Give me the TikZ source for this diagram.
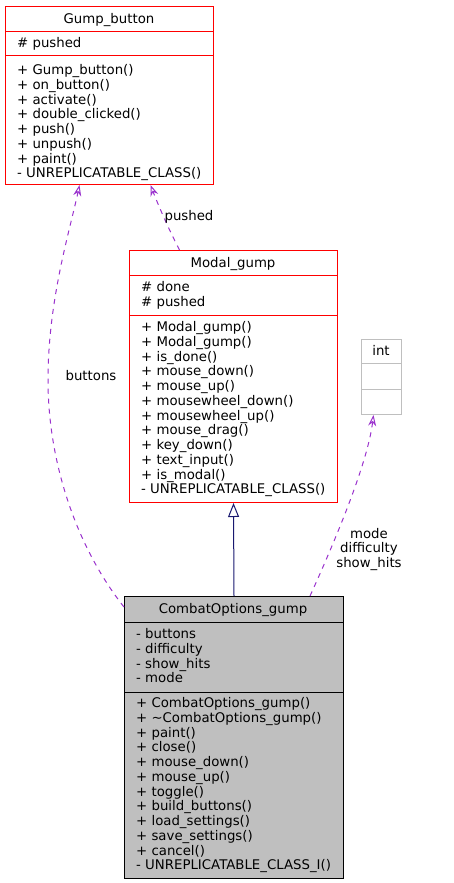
\documentclass[tikz,border=0pt]{standalone}
\usepackage{fontspec}
\setmainfont{DejaVu Sans}
\usetikzlibrary{arrows.meta}

\definecolor{umlred}{HTML}{FF0000}
\definecolor{umlgray}{HTML}{BFBFBF}
\definecolor{umlnavy}{HTML}{191970}
\definecolor{umlpurple}{HTML}{9A32CD}
\newcommand{\umlfont}{\fontsize{13.3}{14.75}\selectfont}

\begin{document}
\begin{tikzpicture}[x=1pt, y=-1pt,
    classbox/.style={draw=umlred, line width=1pt, anchor=north west, inner sep=0pt},
    classname/.style={font=\umlfont, inner sep=0pt, anchor=mid, yshift=-2pt},
    member/.style={font=\umlfont, inner sep=0pt, anchor=mid west, yshift=-2pt},
    edgelabel/.style={font=\umlfont, inner sep=0pt, align=center, yshift=-1.5pt},
    collab/.style={umlpurple, line width=1pt, dash pattern=on 5pt off 5pt,
        -{Stealth[length=11pt, width=8pt, open]}},
    inherit/.style={umlnavy, line width=1pt,
        -{Triangle[open, length=14pt, width=11pt, fill=white]}}]
    \useasboundingbox (0,0) rectangle (453,883);

    % Gump_button
    \node[classbox, minimum width=208pt, minimum height=178pt] (gumpbutton) at (5,6) {};
    \draw[umlred, line width=1pt] (gumpbutton.west |- 0,32) -- (gumpbutton.east |- 0,32);
    \draw[umlred, line width=1pt] (gumpbutton.west |- 0,56) -- (gumpbutton.east |- 0,56);
    \node[classname] (gb-name) at (109,19) {Gump\_button};
    \node[member] (gb-attr) at (17,43) {\# pushed};
    \foreach \m [count=\i from 0] in {+ Gump\_button(), + on\_button(), + activate(),
        + double\_clicked(), + push(), + unpush(), + paint(), - UNREPLICATABLE\_CLASS()}
        \node[member] (gb-op\i) at (17,70+14.75*\i) {\m};

    % Modal_gump
    \node[classbox, minimum width=208pt, minimum height=252pt] (modalgump) at (129,250) {};
    \draw[umlred, line width=1pt] (modalgump.west |- 0,275) -- (modalgump.east |- 0,275);
    \draw[umlred, line width=1pt] (modalgump.west |- 0,315) -- (modalgump.east |- 0,315);
    \node[classname] (mg-name) at (233,263) {Modal\_gump};
    \foreach \m [count=\i from 0] in {\# done, \# pushed}
        \node[member] (mg-attr\i) at (141,287+14.75*\i) {\m};
    \foreach \m [count=\i from 0] in {+ Modal\_gump(), + Modal\_gump(), + is\_done(),
        + mouse\_down(), + mouse\_up(), + mousewheel\_down(), + mousewheel\_up(),
        + mouse\_drag(), + key\_down(), + text\_input(), + is\_modal(),
        - UNREPLICATABLE\_CLASS()}
        \node[member] (mg-op\i) at (141,327+14.75*\i) {\m};

    % int
    \node[classbox, draw=umlgray, minimum width=40pt, minimum height=75pt] (intbox) at (361,339) {};
    \draw[umlgray, line width=1pt] (intbox.west |- 0,363) -- (intbox.east |- 0,363);
    \draw[umlgray, line width=1pt] (intbox.west |- 0,389) -- (intbox.east |- 0,389);
    \node[classname] (int-name) at (381,351) {int};

    % CombatOptions_gump
    \node[classbox, draw=black, fill=umlgray, minimum width=219pt, minimum height=282pt] (combat) at (124,596) {};
    \draw[black, line width=1pt] (combat.west |- 0,622) -- (combat.east |- 0,622);
    \draw[black, line width=1pt] (combat.west |- 0,692) -- (combat.east |- 0,692);
    \node[classname] (co-name) at (233,609) {CombatOptions\_gump};
    \foreach \m [count=\i from 0] in {- buttons, - difficulty, - show\_hits, - mode}
        \node[member] (co-attr\i) at (136,634+14.75*\i) {\m};
    \foreach \m [count=\i from 0] in {+ CombatOptions\_gump(), + \textasciitilde CombatOptions\_gump(),
        + paint(), + close(), + mouse\_down(), + mouse\_up(), + toggle(), + build\_buttons(),
        + load\_settings(), + save\_settings(), + cancel(), - UNREPLICATABLE\_CLASS\_I()}
        \node[member] (co-op\i) at (136,703+14.75*\i) {\m};

    % inheritance
    \draw[inherit] (combat.north) -- (modalgump.south);

    % usage relations
    \draw[collab] ([xshift=-54pt]modalgump.north) .. controls (168,228) and (157,202) .. ([xshift=41pt]gumpbutton.south);
    \node[edgelabel] (pushed-label) at (189,215) {pushed};

    \draw[collab] ([yshift=-11pt]combat.north west) .. controls (75,545) and (48,460) .. (48,380)
        .. controls (48,300) and (70,230) .. ([xshift=-30pt]gumpbutton.south);
    \node[edgelabel] (buttons-label) at (91,374) {buttons};

    \draw[collab] ([xshift=76pt]combat.north) .. controls (340,530) and (368,460) .. ([xshift=-8pt]intbox.south);
    \node[edgelabel] (hits-label) at (369,548) {mode\\difficulty\\show\_hits};
\end{tikzpicture}
\end{document}
